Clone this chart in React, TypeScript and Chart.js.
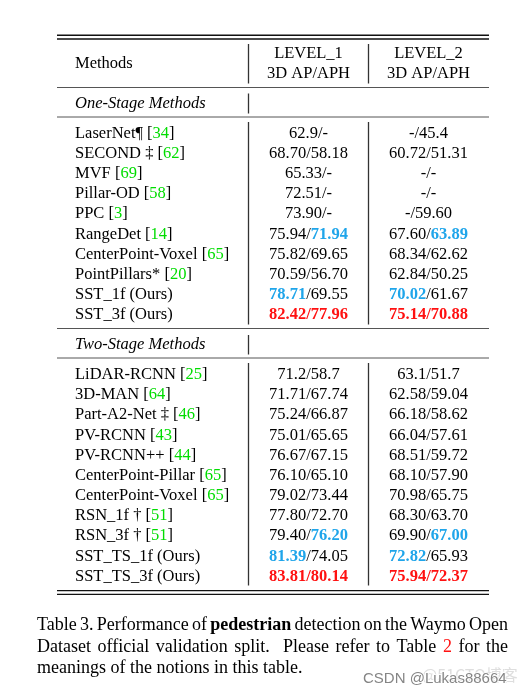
import React, { useEffect, useRef } from "react";
import { Chart, registerables } from "chart.js";

Chart.register(...registerables);

const W = 529;
const H = 695;

// ---------- data ----------
const methodsHeader = "Methods";
const levelHeaders = ["LEVEL_1", "LEVEL_2"];
const metricHeader = "3D AP/APH";
const groupTitles = ["One-Stage Methods", "Two-Stage Methods"];

const oneStageMethods = ["LaserNet¶", "SECOND ‡", "MVF", "Pillar-OD", "PPC", "RangeDet", "CenterPoint-Voxel", "PointPillars*", "SST_1f (Ours)", "SST_3f (Ours)"];
const oneStageRefs = ["34", "62", "69", "58", "3", "14", "65", "20", "", ""];
const oneStageL1 = ["62.9/-", "68.70/58.18", "65.33/-", "72.51/-", "73.90/-", "75.94/71.94", "75.82/69.65", "70.59/56.70", "78.71/69.55", "82.42/77.96"];
const oneStageL1Hl = ["nn", "nn", "nn", "nn", "nn", "nb", "nn", "nn", "bn", "rr"];
const oneStageL2 = ["-/45.4", "60.72/51.31", "-/-", "-/-", "-/59.60", "67.60/63.89", "68.34/62.62", "62.84/50.25", "70.02/61.67", "75.14/70.88"];
const oneStageL2Hl = ["nn", "nn", "nn", "nn", "nn", "nb", "nn", "nn", "bn", "rr"];

const twoStageMethods = ["LiDAR-RCNN", "3D-MAN", "Part-A2-Net ‡", "PV-RCNN", "PV-RCNN++", "CenterPoint-Pillar", "CenterPoint-Voxel", "RSN_1f †", "RSN_3f †", "SST_TS_1f (Ours)", "SST_TS_3f (Ours)"];
const twoStageRefs = ["25", "64", "46", "43", "44", "65", "65", "51", "51", "", ""];
const twoStageL1 = ["71.2/58.7", "71.71/67.74", "75.24/66.87", "75.01/65.65", "76.67/67.15", "76.10/65.10", "79.02/73.44", "77.80/72.70", "79.40/76.20", "81.39/74.05", "83.81/80.14"];
const twoStageL1Hl = ["nn", "nn", "nn", "nn", "nn", "nn", "nn", "nn", "nb", "bn", "rr"];
const twoStageL2 = ["63.1/51.7", "62.58/59.04", "66.18/58.62", "66.04/57.61", "68.51/59.72", "68.10/57.90", "70.98/65.75", "68.30/63.70", "69.90/67.00", "72.82/65.93", "75.94/72.37"];
const twoStageL2Hl = ["nn", "nn", "nn", "nn", "nn", "nn", "nn", "nn", "nb", "bn", "rr"];

const captionLine1 = [["Table", "n"], ["3.", "n"], ["Performance", "n"], ["of", "n"], ["pedestrian", "b"], ["detection", "n"], ["on", "n"], ["the", "n"], ["Waymo", "n"], ["Open", "n"]];
const captionLine2 = [["Dataset", "n"], ["official", "n"], ["validation", "n"], ["split.", "s"], ["Please", "n"], ["refer", "n"], ["to", "n"], ["Table", "n"], ["2", "r"], ["for", "n"], ["the", "n"]];
const captionLine3 = [["meanings", "n"], ["of", "n"], ["the", "n"], ["notions", "n"], ["in", "n"], ["this", "n"], ["table.", "n"]];

const watermark = "CSDN @Lukas88664";
const watermarkGhost = "@51CTO博客";

// ---------- layout ----------
const ROW = 20.18; // px per row
const BASE0 = 137.7; // baseline of first one-stage row
const COLW = 120;
const COL1 = 308.5;
const TWO_OFFSET = (379 - BASE0) / ROW;
const rowOf = (px: number) => (px - BASE0) / ROW;
const colOf = (px: number) => (px - COL1) / COLW + 1;

const SERIF = "'Liberation Serif', 'Times New Roman', serif";
const FS = 16.5;
const CAP_FS = 18;

const BLACK = "#000000";
const BLUE = "#1fa5ea";
const RED = "#ff1111";
const GREEN = "#00dd00";

function styleFor(code: string) {
  if (code === "b") return { font: `bold ${FS}px ${SERIF}`, color: BLUE };
  if (code === "r") return { font: `bold ${FS}px ${SERIF}`, color: RED };
  return { font: `${FS}px ${SERIF}`, color: BLACK };
}

function drawSegments(ctx: CanvasRenderingContext2D, segs: { t: string; font: string; color: string }[], x: number, y: number, align: "left" | "center") {
  let total = 0;
  const widths = segs.map((s) => {
    ctx.font = s.font;
    const w = ctx.measureText(s.t).width;
    total += w;
    return w;
  });
  let cx = align === "center" ? x - total / 2 : x;
  segs.forEach((s, i) => {
    ctx.font = s.font;
    ctx.fillStyle = s.color;
    ctx.fillText(s.t, cx, y);
    cx += widths[i];
  });
}

function valueSegs(val: string, hl: string) {
  const [a, b] = val.split("/");
  const sa = styleFor(hl[0]);
  const sb = styleFor(hl[1]);
  const ss = hl[0] === hl[1] ? sa : styleFor("n");
  return [
    { t: a, ...sa },
    { t: "/", ...ss },
    { t: b, ...sb },
  ];
}

function methodSegs(name: string, ref: string) {
  const n = { font: `${FS}px ${SERIF}`, color: BLACK };
  if (!ref) return [{ t: name, ...n }];
  return [
    { t: name + " [", ...n },
    { t: ref, font: n.font, color: GREEN },
    { t: "]", ...n },
  ];
}

const tablePlugin = {
  id: "tableDraw",
  beforeDraw(chart: any) {
    const ctx = chart.ctx as CanvasRenderingContext2D;
    ctx.save();
    ctx.fillStyle = "#ffffff";
    ctx.fillRect(0, 0, chart.width, chart.height);
    ctx.restore();
  },
  afterDatasetsDraw(chart: any) {
    const ctx = chart.ctx as CanvasRenderingContext2D;
    const xs = chart.scales.x;
    const ys = chart.scales.y;
    const X = (v: number) => xs.getPixelForValue(v);
    const Y = (v: number) => ys.getPixelForValue(v);
    ctx.save();
    ctx.textBaseline = "alphabetic";
    ctx.textAlign = "left";

    // horizontal rules
    const left = X(colOf(57));
    const right = X(colOf(489));
    const hRules: [number, number, string][] = [
      [35.2, 1.4, "#111"],
      [39, 1.4, "#111"],
      [87.5, 1, "#555"],
      [117, 1, "#555"],
      [328.5, 1, "#555"],
      [358, 1, "#555"],
      [590.6, 1.4, "#111"],
      [594.4, 1.4, "#111"],
    ];
    hRules.forEach(([py, lw, c]) => {
      ctx.strokeStyle = c;
      ctx.lineWidth = lw;
      ctx.beginPath();
      ctx.moveTo(left, Y(rowOf(py)));
      ctx.lineTo(right, Y(rowOf(py)));
      ctx.stroke();
    });

    // vertical rules: [col value, top px, bottom px]
    const vRules: [number, number, number][] = [
      [0.5, 44, 83.5], [1.5, 44, 83.5],
      [0.5, 93.5, 113.5],
      [0.5, 122, 324.5], [1.5, 122, 324.5],
      [0.5, 335, 354.5],
      [0.5, 363, 585.5], [1.5, 363, 585.5],
    ];
    ctx.strokeStyle = "#333";
    ctx.lineWidth = 1.3;
    vRules.forEach(([c, t, b]) => {
      ctx.beginPath();
      ctx.moveTo(X(c), Y(rowOf(t)));
      ctx.lineTo(X(c), Y(rowOf(b)));
      ctx.stroke();
    });

    const normal = { font: `${FS}px ${SERIF}`, color: BLACK };
    const italic = { font: `italic ${FS}px ${SERIF}`, color: BLACK };
    const mx = X(colOf(75));

    // header
    drawSegments(ctx, [{ t: methodsHeader, ...normal }], mx, Y(rowOf(68.3)), "left");
    levelHeaders.forEach((h, i) => {
      drawSegments(ctx, [{ t: h, ...normal }], X(i + 1), Y(rowOf(58.3)), "center");
      drawSegments(ctx, [{ t: metricHeader, ...normal }], X(i + 1), Y(rowOf(78.3)), "center");
    });

    // group titles
    drawSegments(ctx, [{ t: groupTitles[0], ...italic }], mx, Y(rowOf(108.3)), "left");
    drawSegments(ctx, [{ t: groupTitles[1], ...italic }], mx, Y(rowOf(349.3)), "left");

    // rows
    oneStageMethods.forEach((m, i) => {
      const y = Y(i);
      drawSegments(ctx, methodSegs(m, oneStageRefs[i]), mx, y, "left");
      drawSegments(ctx, valueSegs(oneStageL1[i], oneStageL1Hl[i]), X(1), y, "center");
      drawSegments(ctx, valueSegs(oneStageL2[i], oneStageL2Hl[i]), X(2), y, "center");
    });
    twoStageMethods.forEach((m, i) => {
      const y = Y(TWO_OFFSET + i);
      drawSegments(ctx, methodSegs(m, twoStageRefs[i]), mx, y, "left");
      drawSegments(ctx, valueSegs(twoStageL1[i], twoStageL1Hl[i]), X(1), y, "center");
      drawSegments(ctx, valueSegs(twoStageL2[i], twoStageL2Hl[i]), X(2), y, "center");
    });

    // caption
    const capL = X(colOf(37));
    const capR = X(colOf(508));
    const capFont = (s: string) => (s === "b" ? `bold ${CAP_FS}px ${SERIF}` : `${CAP_FS}px ${SERIF}`);
    const capColor = (s: string) => (s === "r" ? RED : BLACK);
    const drawCap = (words: string[][], py: number, justify: boolean) => {
      const ws = words.map(([t, s]) => {
        ctx.font = capFont(s);
        return ctx.measureText(t).width;
      });
      const sum = ws.reduce((a, b) => a + b, 0);
      const weights = words.slice(0, -1).map(([, s]) => (s === "s" ? 2 : 1));
      const wsum = weights.reduce((a, b) => a + b, 0);
      ctx.font = `${CAP_FS}px ${SERIF}`;
      const natural = ctx.measureText(" ").width;
      const unit = justify ? (capR - capL - sum) / wsum : natural;
      let x = capL;
      const y = Y(rowOf(py));
      words.forEach(([t, s], i) => {
        ctx.font = capFont(s);
        ctx.fillStyle = capColor(s);
        ctx.fillText(t, x, y);
        x += ws[i] + (i < weights.length ? unit * weights[i] : 0);
      });
    };
    drawCap(captionLine1, 630, true);
    drawCap(captionLine2, 651.7, true);
    drawCap(captionLine3, 673.3, false);

    // watermark
    const wy = Y(rowOf(683));
    ctx.font = `16px 'Noto Sans CJK SC', 'Liberation Sans', sans-serif`;
    ctx.fillStyle = "rgba(200,200,200,0.6)";
    ctx.fillText(watermarkGhost, X(colOf(422)), Y(rowOf(681)));
    ctx.font = `15px 'Liberation Sans', Arial, sans-serif`;
    ctx.lineWidth = 2;
    ctx.strokeStyle = "rgba(255,255,255,0.8)";
    ctx.strokeText(watermark, X(colOf(363)), wy);
    ctx.fillStyle = "#858585";
    ctx.fillText(watermark, X(colOf(363)), wy);

    ctx.restore();
  },
};

export default function App() {
  const ref = useRef<HTMLCanvasElement | null>(null);
  useEffect(() => {
    if (!ref.current) return;
    const anchors: { x: number; y: number }[] = [];
    oneStageMethods.forEach((_, i) => [0, 1, 2].forEach((c) => anchors.push({ x: c, y: i })));
    twoStageMethods.forEach((_, i) => [0, 1, 2].forEach((c) => anchors.push({ x: c, y: TWO_OFFSET + i })));
    const chart = new Chart(ref.current, {
      type: "scatter",
      data: {
        datasets: [
          {
            data: anchors,
            pointRadius: 0,
            pointHoverRadius: 0,
            showLine: false,
          },
        ],
      },
      options: {
        animation: false,
        responsive: false,
        devicePixelRatio: 1,
        layout: { padding: 0 },
        events: [],
        plugins: { legend: { display: false }, tooltip: { enabled: false } },
        scales: {
          x: { type: "linear", display: false, min: colOf(0), max: colOf(W) },
          y: { type: "linear", display: false, reverse: true, min: rowOf(0), max: rowOf(H) },
        },
      },
      plugins: [tablePlugin],
    });
    return () => chart.destroy();
  }, []);
  return (
    <div style={{ position: "absolute", left: 0, top: 0, width: W, height: H, background: "#fff" }}>
      <canvas ref={ref} width={W} height={H} style={{ display: "block", width: W, height: H }} />
    </div>
  );
}
